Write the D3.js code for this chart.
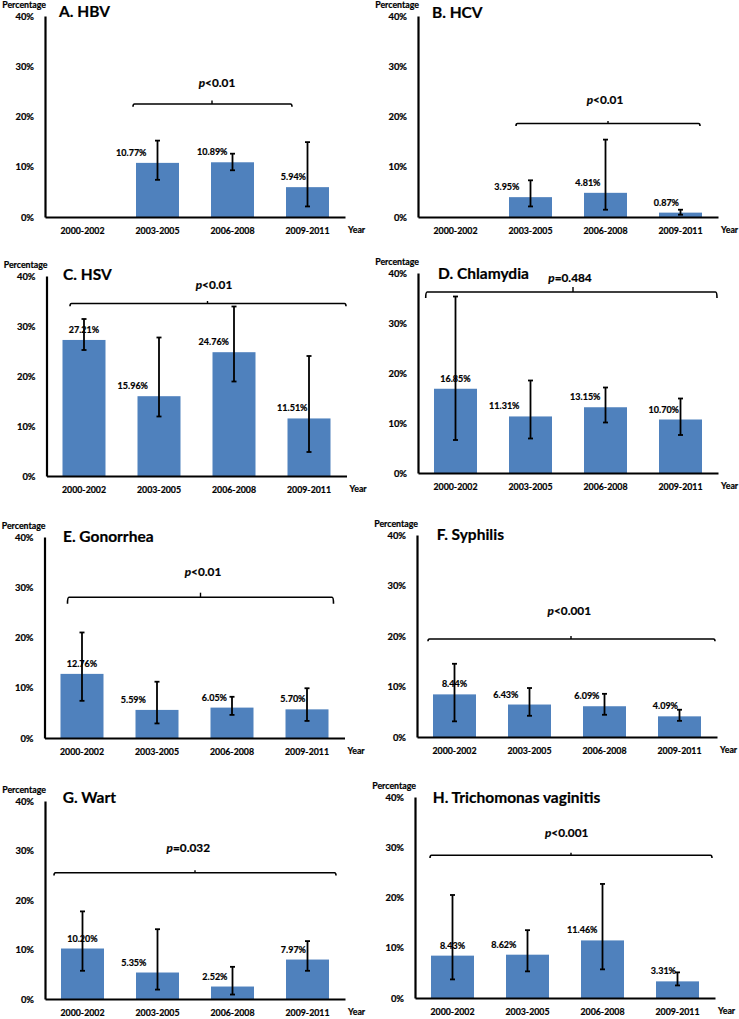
<!DOCTYPE html>
<html>
<head>
<meta charset="utf-8">
<script src="https://cdn.jsdelivr.net/npm/d3@7"></script>
<style>
  html, body { margin: 0; padding: 0; background: #fff; }
  svg { display: block; }
  text { font-family: Lato, "Open Sans", sans-serif; font-weight: bold; fill: #000; stroke: #000; stroke-width: 0.2px; }
</style>
</head>
<body>
<svg id="chart" width="739" height="1019"></svg>
<script>
// ---------- DATA ----------
const categories = ["2000-2002", "2003-2005", "2006-2008", "2009-2011"];
const yTicks = [0, 10, 20, 30, 40];
const panelTitles = ["A. HBV", "B. HCV", "C. HSV", "D. Chlamydia", "E. Gonorrhea", "F. Syphilis", "G. Wart", "H. Trichomonas vaginitis"];
const pValues = ["<0.01", "<0.01", "<0.01", "=0.484", "<0.01", "<0.001", "=0.032", "<0.001"];

const hbvValues = [null, 10.77, 10.89, 5.94];
const hbvLower  = [null, 7.4, 9.3, 2.1];
const hbvUpper  = [null, 15.2, 12.6, 14.9];

const hcvValues = [null, 3.95, 4.81, 0.87];
const hcvLower  = [null, 2.1, 1.45, 0.45];
const hcvUpper  = [null, 7.3, 15.4, 1.45];

const hsvValues = [27.21, 15.96, 24.76, 11.51];
const hsvLower  = [25.2, 11.9, 18.9, 4.8];
const hsvUpper  = [31.4, 27.7, 33.9, 24.0];

const chlamydiaValues = [16.85, 11.31, 13.15, 10.70];
const chlamydiaLower  = [6.6, 6.9, 10.1, 7.6];
const chlamydiaUpper  = [35.3, 18.5, 17.1, 14.9];

const gonorrheaValues = [12.76, 5.59, 6.05, 5.70];
const gonorrheaLower  = [7.4, 2.9, 4.6, 3.4];
const gonorrheaUpper  = [21.0, 11.2, 8.2, 9.9];

const syphilisValues = [8.44, 6.43, 6.09, 4.09];
const syphilisLower  = [3.1, 4.2, 4.4, 3.2];
const syphilisUpper  = [14.5, 9.7, 8.55, 5.4];

const wartValues = [10.20, 5.35, 2.52, 7.97];
const wartLower  = [5.7, 1.9, 0.9, 5.7];
const wartUpper  = [17.7, 14.1, 6.5, 11.7];

const trichValues = [8.43, 8.62, 11.46, 3.31];
const trichLower  = [3.7, 5.3, 5.7, 2.5];
const trichUpper  = [20.5, 13.5, 22.7, 5.1];

// bracket heights (percentage units) and p-label heights
const bracketLevel = [22.5, 18.6, 34.5, 36.2, 28.0, 19.4, 25.5, 28.4];
const pLabelLevel  = [25.8, 22.5, 37.5, 38.3, 32.2, 24.2, 29.6, 32.1];

const series = [
  [hbvValues, hbvLower, hbvUpper],
  [hcvValues, hcvLower, hcvUpper],
  [hsvValues, hsvLower, hsvUpper],
  [chlamydiaValues, chlamydiaLower, chlamydiaUpper],
  [gonorrheaValues, gonorrheaLower, gonorrheaUpper],
  [syphilisValues, syphilisLower, syphilisUpper],
  [wartValues, wartLower, wartUpper],
  [trichValues, trichLower, trichUpper]
];

// ---------- LAYOUT ----------
const layout = [
  {ax: 45,   y0: 217, y40: 16,  br: {x1: 88,  x2: 247, xc: 167, hook: 2.7, tick: 3.5}, px: 172,   tdx: 14,   tdy: 1},
  {ax: 418,  y0: 217, y40: 16,  br: {x1: 98,  x2: 282, xc: 190, hook: 2.5, tick: 2.5}, px: 187,   tdx: 14,   tdy: 2},
  {ax: 46.5, y0: 476, y40: 276, br: {x1: 23.5,x2: 299.5,xc: 161, hook: 2.7, tick: 2.5}, px: 167.5, tdx: 16.5, tdy: 4},
  {ax: 418,  y0: 473, y40: 273, br: {x1: 7.7, x2: 299, xc: 155, hook: 6,   tick: 5},   px: 152,   tdx: 20,   tdy: 6},
  {ax: 44.5, y0: 738, y40: 537, br: {x1: 23,  x2: 289, xc: 156, hook: 6.5, tick: 4.6}, px: 158.5, tdx: 18.5, tdy: 4.7},
  {ax: 417,  y0: 737, y40: 535, br: {x1: 11,  x2: 298, xc: 154, hook: 2.3, tick: 3},   px: 152.3, tdx: 19.7, tdy: 5},
  {ax: 45,   y0: 999, y40: 801, br: {x1: 9,   x2: 291, xc: 150, hook: 2.7, tick: 2.5}, px: 143.3, tdx: 17.7, tdy: 1.7},
  {ax: 415,  y0: 998, y40: 797, br: {x1: 15,  x2: 297, xc: 156, hook: 2.7, tick: 2.5}, px: 151.7, tdx: 17.7, tdy: 6.3}
];
const labelOffsets = [0, -11, -5, -1.5];
const barColor = "#4F81BD";

const svg = d3.select("#chart");
svg.append("rect").attr("width", 739).attr("height", 1019).attr("fill", "#fff");

layout.forEach((L, pi) => {
  const [vals, lo, hi] = series[pi];
  const g = svg.append("g");
  const x = d3.scaleBand().domain(categories).range([L.ax, L.ax + 300])
    .paddingInner(0.4267).paddingOuter(0.2133);
  const y = d3.scaleLinear().domain([0, 40]).range([L.y0, L.y40]);

  // bars
  const data = categories.map((c, i) => ({c, i, v: vals[i], lo: lo[i], hi: hi[i]})).filter(d => d.v != null);
  g.selectAll("rect.bar").data(data).join("rect")
    .attr("class", "bar")
    .attr("x", d => x(d.c)).attr("width", x.bandwidth())
    .attr("y", d => y(d.v)).attr("height", d => y(0) - y(d.v))
    .attr("fill", barColor);

  // value labels
  g.selectAll("text.val").data(data).join("text")
    .attr("class", "val")
    .attr("x", d => x(d.c) + x.bandwidth() / 2 + labelOffsets[d.i])
    .attr("y", d => y(d.v) - 7)
    .attr("text-anchor", d => d.i === 0 ? "middle" : "end")
    .style("font-size", "9px")
    .text(d => d.v.toFixed(2) + "%");

  // error bars
  const eb = g.selectAll("g.err").data(data).join("g").attr("class", "err")
    .attr("stroke", "#000").attr("stroke-width", 1.8);
  eb.append("line")
    .attr("x1", d => x(d.c) + x.bandwidth() / 2).attr("x2", d => x(d.c) + x.bandwidth() / 2)
    .attr("y1", d => y(d.lo)).attr("y2", d => y(d.hi));
  eb.append("line")
    .attr("x1", d => x(d.c) + x.bandwidth() / 2 - 2.5).attr("x2", d => x(d.c) + x.bandwidth() / 2 + 2.5)
    .attr("y1", d => y(d.lo)).attr("y2", d => y(d.lo));
  eb.append("line")
    .attr("x1", d => x(d.c) + x.bandwidth() / 2 - 2.5).attr("x2", d => x(d.c) + x.bandwidth() / 2 + 2.5)
    .attr("y1", d => y(d.hi)).attr("y2", d => y(d.hi));

  // y axis
  const yAxis = g.append("g").attr("transform", `translate(${L.ax},0)`)
    .call(d3.axisLeft(y).tickValues(yTicks).tickSize(0).tickSizeOuter(0).tickPadding(11)
      .tickFormat(d => d + "%"));
  yAxis.select(".domain").attr("stroke", "#000").attr("stroke-width", 2.2);
  yAxis.selectAll("text").style("font-size", "9.4px").style("font-family", "Lato, sans-serif").style("font-weight", "bold");

  // x axis
  const xAxis = g.append("g").attr("transform", `translate(0,${L.y0})`)
    .call(d3.axisBottom(x).tickSize(0).tickSizeOuter(0).tickPadding(11));
  xAxis.select(".domain").attr("stroke", "#000").attr("stroke-width", 2.2);
  xAxis.selectAll("text").style("font-size", "8.8px").style("font-family", "Lato, sans-serif").style("font-weight", "bold");

  // axis titles
  g.append("text").attr("x", L.ax + 1).attr("y", L.y40 - 8)
    .attr("text-anchor", "end").style("font-size", "8.8px").text("Percentage");
  g.append("text").attr("x", L.ax + 303).attr("y", L.y0 + 16)
    .style("font-size", "8.8px").text("Year");

  // panel title
  g.append("text").attr("x", L.ax + L.tdx).attr("y", L.y40 + L.tdy)
    .style("font-size", "15.5px").text(panelTitles[pi]);

  // bracket
  const by = y(bracketLevel[pi]);
  const b = L.br;
  g.append("path")
    .attr("d", `M${L.ax + b.x1},${by + b.hook} Q${L.ax + b.x1},${by} ${L.ax + b.x1 + 1.5},${by} L${L.ax + b.x2 - 1.5},${by} Q${L.ax + b.x2},${by} ${L.ax + b.x2},${by + b.hook}`)
    .attr("fill", "none").attr("stroke", "#000").attr("stroke-width", 1.6);
  g.append("line")
    .attr("x1", L.ax + b.xc).attr("x2", L.ax + b.xc)
    .attr("y1", by).attr("y2", by - b.tick)
    .attr("stroke", "#000").attr("stroke-width", 1.4);

  // p label
  const pt = g.append("text").attr("x", L.ax + L.px).attr("y", y(pLabelLevel[pi]))
    .attr("text-anchor", "middle").style("font-size", "11.8px");
  pt.append("tspan").style("font-style", "italic").text("p");
  pt.append("tspan").text(pValues[pi]);
});
</script>
</body>
</html>
